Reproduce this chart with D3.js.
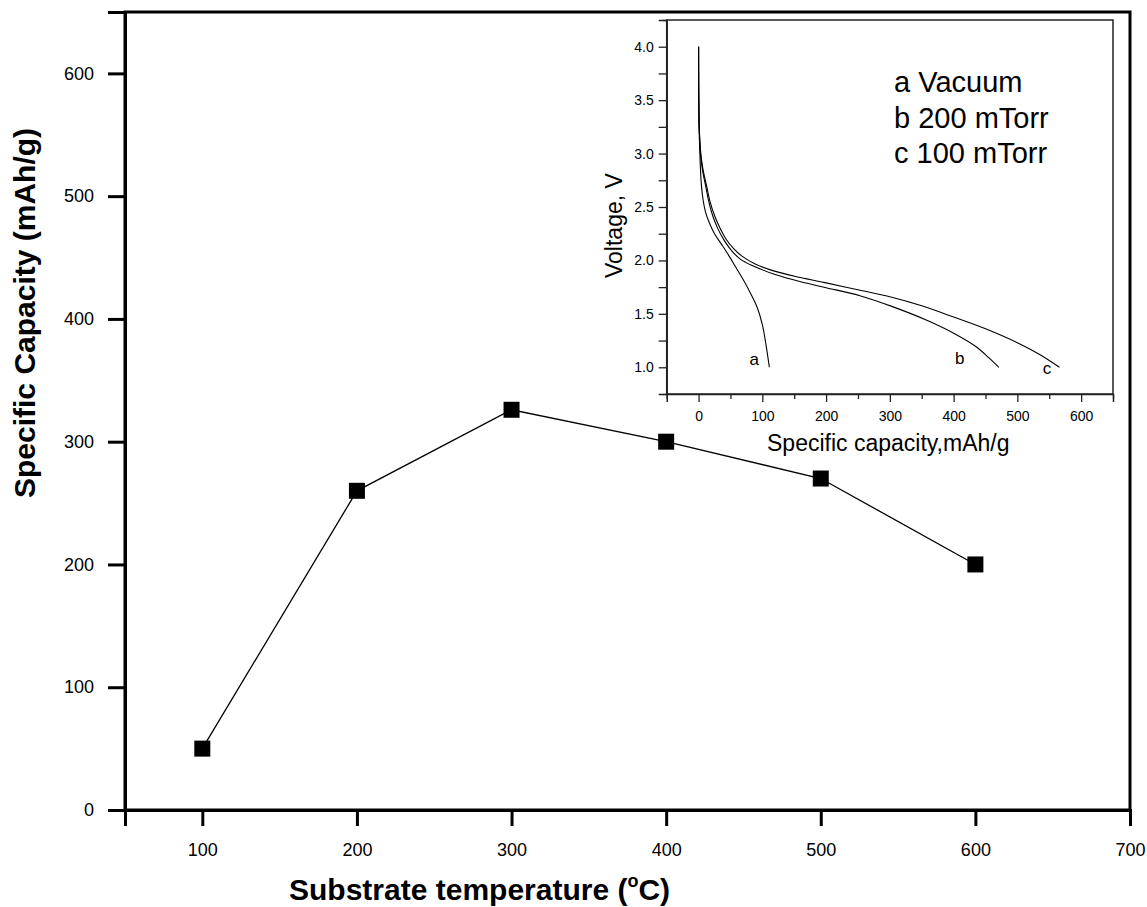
<!DOCTYPE html>
<html><head><meta charset="utf-8">
<script src="https://cdn.jsdelivr.net/npm/d3@7"></script>
<style>body{margin:0;background:#fff}svg{display:block}text{font-family:"Liberation Sans",Arial,Helvetica,sans-serif;fill:#000}</style>
</head><body>
<svg id="chart" width="1147" height="907"></svg>
<script>
// ---- main chart data ----
const temperatures = [100, 200, 300, 400, 500, 600];
const capacities = [50, 260, 326, 300, 270, 200];
const mainXTicks = [100, 200, 300, 400, 500, 600, 700];
const mainYTicks = [0, 100, 200, 300, 400, 500, 600];

// ---- inset data: discharge curves [capacity mAh/g, voltage V] ----
const curveA = [[0,4.0],[0.2,3.6],[0.8,3.25],[2,3.0],[3,2.85],[4.5,2.7],[7,2.57],[11,2.45],[17,2.35],[25,2.25],[35,2.16],[47,2.05],[58,1.94],[69,1.83],[80,1.71],[92,1.56],[100,1.40],[106,1.2],[111,1.0]];
const curveB = [[0,4.0],[0.2,3.6],[1,3.25],[3,3.0],[6,2.85],[11,2.7],[16,2.55],[22,2.42],[30,2.3],[40,2.19],[52,2.09],[66,2.01],[85,1.95],[119,1.87],[160,1.80],[200,1.745],[253,1.67],[303,1.57],[358,1.44],[403,1.31],[436,1.19],[455,1.09],[471,1.0]];
const curveC = [[0,4.0],[0.2,3.6],[1,3.25],[3.5,3.0],[7,2.85],[12.5,2.7],[18,2.55],[25,2.42],[33,2.31],[43,2.2],[55,2.11],[68,2.04],[88,1.97],[119,1.90],[160,1.84],[200,1.79],[250,1.725],[300,1.66],[350,1.575],[400,1.47],[450,1.36],[500,1.23],[535,1.12],[566,1.0]];
const curveLabels = ["a", "b", "c"];
const curveLabelPos = [[80, 1.02], [402, 1.03], [540, 0.94]];
const legendItems = ["a Vacuum", "b 200 mTorr", "c 100 mTorr"];
const insetXTicks = [0, 100, 200, 300, 400, 500, 600];
const insetYTicks = [1.0, 1.5, 2.0, 2.5, 3.0, 3.5, 4.0];

const svg = d3.select("#chart");

// ---------- main chart ----------
const x = d3.scaleLinear().domain([50, 700]).range([125, 1130]);
const y = d3.scaleLinear().domain([0, 650]).range([810, 12]);

const g = svg.append("g");
g.append("rect").attr("x", x(50)).attr("y", y(650))
  .attr("width", x(700) - x(50)).attr("height", y(0) - y(650))
  .attr("fill", "none").attr("stroke", "#000").attr("stroke-width", 3);

const xAxis = g.append("g").attr("transform", `translate(0,${y(0)})`)
  .call(d3.axisBottom(x).tickValues(mainXTicks).tickSize(16).tickPadding(17).tickFormat(d3.format("d")));
const yAxis = g.append("g").attr("transform", `translate(${x(50)},0)`)
  .call(d3.axisLeft(y).tickValues(mainYTicks).tickSize(17).tickPadding(14).tickFormat(d3.format("d")));
[xAxis, yAxis].forEach(a => {
  a.select(".domain").attr("stroke-width", 3);
  a.selectAll(".tick line").attr("stroke-width", 3);
  a.selectAll(".tick text").attr("font-size", 18).attr("font-family", "Liberation Sans, Arial, sans-serif");
});

g.append("path").datum(temperatures.map((t, i) => [t, capacities[i]]))
  .attr("fill", "none").attr("stroke", "#000").attr("stroke-width", 1.3)
  .attr("d", d3.line().x(d => x(d[0])).y(d => y(d[1])));
const sq = 16;
g.selectAll("rect.pt").data(temperatures).join("rect").attr("class", "pt")
  .attr("x", (d) => x(d) - sq / 2).attr("y", (d, i) => y(capacities[i]) - sq / 2)
  .attr("width", sq).attr("height", sq).attr("fill", "#000");

const xt = g.append("text").attr("x", 289).attr("y", 900)
  .attr("font-size", 30).attr("font-weight", "bold");
xt.append("tspan").text("Substrate temperature (");
xt.append("tspan").attr("font-size", 18).attr("dy", -13).text("o");
xt.append("tspan").attr("dy", 13).text("C)");

g.append("text").attr("transform", "translate(35,498) rotate(-90)")
  .attr("font-size", 30).attr("font-weight", "bold")
  .text("Specific Capacity (mAh/g)");

// ---------- inset ----------
const ix = d3.scaleLinear().domain([-50, 650]).range([666.7, 1113]);
const iy = d3.scaleLinear().domain([0.75, 4.25]).range([394, 20]);
const ig = svg.append("g");

ig.append("rect").attr("x", ix(-50)).attr("y", iy(4.25))
  .attr("width", ix(650) - ix(-50)).attr("height", iy(0.75) - iy(4.25))
  .attr("fill", "#fff").attr("stroke", "#222").attr("stroke-width", 1.5);

ig.append("g").attr("transform", `translate(0,${iy(0.75)})`)
  .call(d3.axisBottom(ix).tickValues(insetXTicks).tickSize(8).tickPadding(9).tickFormat(d3.format("d")));
ig.append("g").attr("transform", `translate(0,${iy(0.75)})`)
  .call(d3.axisBottom(ix).tickValues(d3.range(-50, 651, 100)).tickSize(5).tickFormat(""))
  .select(".domain").remove();
ig.append("g").attr("transform", `translate(${ix(-50)},0)`)
  .call(d3.axisLeft(iy).tickValues(insetYTicks).tickSize(8).tickPadding(5).tickFormat(d3.format(".1f")));
ig.append("g").attr("transform", `translate(${ix(-50)},0)`)
  .call(d3.axisLeft(iy).tickValues(d3.range(1.25, 4.0, 0.5)).tickSize(8).tickFormat(""))
  .select(".domain").remove();
ig.append("g").attr("transform", `translate(${ix(-50)},0)`)
  .call(d3.axisLeft(iy).tickValues([0.75, 4.25]).tickSize(4).tickFormat(""))
  .select(".domain").remove();
ig.selectAll(".domain").attr("stroke-width", 1.5).attr("stroke", "#222");
ig.selectAll(".tick line").attr("stroke-width", 1.3).attr("stroke", "#222");
ig.selectAll(".tick text").attr("font-size", 14).attr("font-family", "Liberation Sans, Arial, sans-serif");

const iline = d3.line().x(d => ix(d[0])).y(d => iy(d[1])).curve(d3.curveCatmullRom.alpha(0.5));
[curveA, curveB, curveC].forEach(c => {
  ig.append("path").datum(c).attr("fill", "none").attr("stroke", "#000")
    .attr("stroke-width", 1.1).attr("d", iline);
});
ig.selectAll("text.cl").data(curveLabels).join("text").attr("class", "cl")
  .attr("x", (d, i) => ix(curveLabelPos[i][0])).attr("y", (d, i) => iy(curveLabelPos[i][1]))
  .attr("font-size", 17).text(d => d);

ig.selectAll("text.lg").data(legendItems).join("text").attr("class", "lg")
  .attr("x", 894).attr("y", (d, i) => 92 + i * 35.5)
  .attr("font-size", 29).text(d => d);

ig.append("text").attr("x", 767).attr("y", 451).attr("font-size", 23)
  .text("Specific capacity,mAh/g");
ig.append("text").attr("transform", "translate(622,278) rotate(-90)").attr("font-size", 23)
  .text("Voltage, V");
</script>
</body></html>
